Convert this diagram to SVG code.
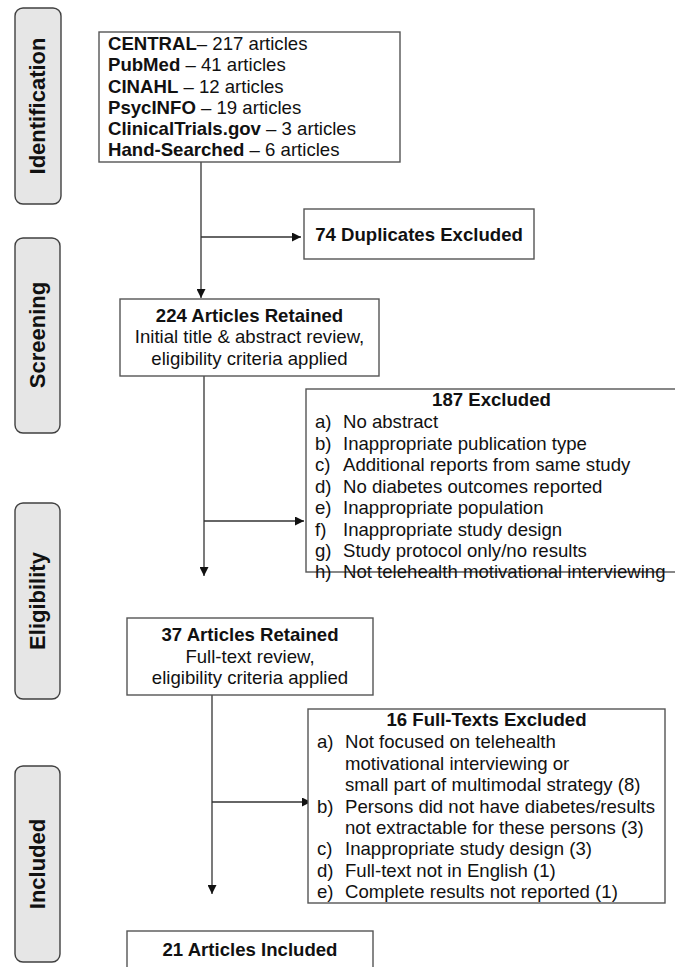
<svg xmlns="http://www.w3.org/2000/svg" width="675" height="967" viewBox="0 0 675 967">
<style>
  text { font-family: "Liberation Sans", Arial, sans-serif; font-size: 18.6px; fill: #111; }
  .b { font-weight: bold; }
  .tab rect { fill: #e6e6e6; stroke: #404040; stroke-width: 1.4; }
  .tab text { font-size: 22px; font-weight: bold; text-anchor: middle; }
  .box { fill: #fff; stroke: #555; stroke-width: 1.4; }
  .c { text-anchor: middle; }
  .conn line { stroke: #333; stroke-width: 1.3; fill: none; }
</style>
<defs>
  <marker id="arr" viewBox="0 0 10 10" refX="10" refY="5" markerWidth="9" markerHeight="9" markerUnits="userSpaceOnUse" orient="auto">
    <path d="M0,0 L10,5 L0,10 z" fill="#111"/>
  </marker>
</defs>
<rect width="675" height="967" fill="#fff"/>

<g id="tab-identification" class="tab">
  <rect x="15" y="8" width="46" height="196" rx="8"/>
  <text transform="translate(45,106) rotate(-90)">Identification</text>
</g>
<g id="tab-screening" class="tab">
  <rect x="15" y="238" width="45" height="195" rx="8"/>
  <text transform="translate(45,335) rotate(-90)">Screening</text>
</g>
<g id="tab-eligibility" class="tab">
  <rect x="15" y="503" width="45" height="196" rx="8"/>
  <text transform="translate(45,601) rotate(-90)">Eligibility</text>
</g>
<g id="tab-included" class="tab">
  <rect x="15" y="766" width="45" height="196" rx="8"/>
  <text transform="translate(45,864) rotate(-90)">Included</text>
</g>

<g id="conn">
  <g class="conn">
    <line x1="201" y1="162" x2="201" y2="298" marker-end="url(#arr)"/>
    <line x1="201" y1="237" x2="301" y2="237" marker-end="url(#arr)"/>
    <line x1="204" y1="376" x2="204" y2="576" marker-end="url(#arr)"/>
    <line x1="204" y1="521" x2="304" y2="521" marker-end="url(#arr)"/>
    <line x1="212" y1="695" x2="212" y2="894" marker-end="url(#arr)"/>
    <line x1="212" y1="802" x2="311" y2="802" marker-end="url(#arr)"/>
  </g>
</g>

<g id="sources">
  <rect class="box" x="99" y="32" width="301" height="130"/>
  <text x="108" y="50"><tspan class="b">CENTRAL</tspan>– 217 articles</text>
  <text x="108" y="71"><tspan class="b">PubMed</tspan> – 41 articles</text>
  <text x="108" y="92.5"><tspan class="b">CINAHL</tspan> – 12 articles</text>
  <text x="108" y="114"><tspan class="b">PsycINFO</tspan> – 19 articles</text>
  <text x="108" y="135"><tspan class="b">ClinicalTrials.gov</tspan> – 3 articles</text>
  <text x="108" y="156"><tspan class="b">Hand-Searched</tspan> – 6 articles</text>
</g>

<g id="duplicates">
  <rect class="box" x="304" y="209" width="230" height="50"/>
  <text class="c b" x="419" y="241">74 Duplicates Excluded</text>
</g>

<g id="retained224">
  <rect class="box" x="120" y="299" width="259" height="77"/>
  <text class="c b" x="249.5" y="322">224 Articles Retained</text>
  <text class="c" x="249.5" y="343">Initial title &amp; abstract review,</text>
  <text class="c" x="249.5" y="364.5">eligibility criteria applied</text>
</g>

<g id="excluded187">
  <rect class="box" x="306" y="389" width="371" height="183"/>
  <text class="c b" x="491.5" y="406">187 Excluded</text>
  <text x="315" y="428">a)</text><text x="343" y="428">No abstract</text>
  <text x="315" y="449.5">b)</text><text x="343" y="449.5">Inappropriate publication type</text>
  <text x="315" y="471">c)</text><text x="343" y="471">Additional reports from same study</text>
  <text x="315" y="492.5">d)</text><text x="343" y="492.5">No diabetes outcomes reported</text>
  <text x="315" y="514">e)</text><text x="343" y="514">Inappropriate population</text>
  <text x="315" y="535.5">f)</text><text x="343" y="535.5">Inappropriate study design</text>
  <text x="315" y="557">g)</text><text x="343" y="557">Study protocol only/no results</text>
  <text x="315" y="578">h)</text><text x="343" y="578">Not telehealth motivational interviewing</text>
</g>

<g id="retained37">
  <rect class="box" x="127" y="618" width="246" height="77"/>
  <text class="c b" x="250" y="641">37 Articles Retained</text>
  <text class="c" x="250" y="662.5">Full-text review,</text>
  <text class="c" x="250" y="684">eligibility criteria applied</text>
</g>

<g id="excluded16">
  <rect class="box" x="308" y="709" width="357" height="194"/>
  <text class="c b" x="486.5" y="726">16 Full-Texts Excluded</text>
  <text x="317" y="748">a)</text><text x="345" y="748">Not focused on telehealth</text>
  <text x="345" y="769.5">motivational interviewing or</text>
  <text x="345" y="791">small part of multimodal strategy (8)</text>
  <text x="317" y="812.5">b)</text><text x="345" y="812.5">Persons did not have diabetes/results</text>
  <text x="345" y="834">not extractable for these persons (3)</text>
  <text x="317" y="855">c)</text><text x="345" y="855">Inappropriate study design (3)</text>
  <text x="317" y="876.5">d)</text><text x="345" y="876.5">Full-text not in English (1)</text>
  <text x="317" y="898">e)</text><text x="345" y="898">Complete results not reported (1)</text>
</g>

<g id="included21">
  <rect class="box" x="127" y="931" width="246" height="50"/>
  <text class="c b" x="250" y="956">21 Articles Included</text>
</g>
</svg>
